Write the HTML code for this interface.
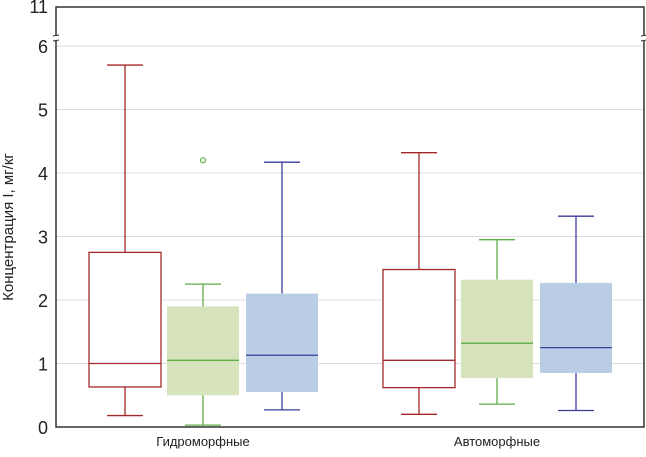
<!DOCTYPE html>
<html><head><meta charset="utf-8"><style>
body{margin:0;background:#fff;width:646px;height:452px;overflow:hidden}
svg text{font-family:"Liberation Sans","Noto Sans CJK SC",sans-serif}
</style></head><body>
<svg id="chart" width="646" height="452" xmlns="http://www.w3.org/2000/svg"></svg>
<script>
const categories=["Гидроморфные","Автоморфные"];
const seriesNames=["series-red","series-green","series-blue"];
const q1=[[0.63,0.5,0.55],[0.62,0.77,0.85]];
const q3=[[2.75,1.9,2.1],[2.48,2.32,2.27]];
const med=[[1.0,1.05,1.13],[1.05,1.32,1.25]];
const wLo=[[0.18,0.03,0.27],[0.2,0.36,0.26]];
const wHi=[[5.7,2.25,4.17],[4.32,2.95,3.32]];
const outliers=[[[],[4.2],[]],[[],[],[]]];
const yTicks=[0,1,2,3,4,5,6];
const strokes=["#a3282a","#5fae45","#3d3d9a"];
const fills=["#ffffff","#d7e3bd","#b9cde5"];
const svg=document.getElementById('chart');
const NS="http://www.w3.org/2000/svg";
const L=56,R=644,T=7,B=427;
function y(v){return B-v*63.5;}
function mk(t,a,p){const e=document.createElementNS(NS,t);for(const k in a)e.setAttribute(k,a[k]);(p||svg).appendChild(e);return e;}
// gridlines
yTicks.forEach(v=>{if(v>0){const g=mk('line',{x1:L,x2:R,y1:y(v),y2:y(v),stroke:'#dcdcdc','stroke-width':1});

}
const t=mk('text',{x:L-8,y:y(v)+7,'text-anchor':'end','font-size':18,fill:'#222'});t.textContent=v;

});
const t11=mk('text',{x:L-8,y:T+6,'text-anchor':'end','font-size':18,fill:'#222'});t11.textContent='11';


// frame
const fr=mk('path',{d:`M${L},${T}H${R}V${B}H${L}Z`,fill:'none',stroke:'#333','stroke-width':1.5});


[L,R].forEach(x=>{mk('rect',{x:x-3,y:36,width:6,height:5,fill:'#fff'});
mk('line',{x1:x-3,x2:x+3,y1:36,y2:35,stroke:'#333'});mk('line',{x1:x-3,x2:x+3,y1:41,y2:40,stroke:'#333'});});
const xAxisLbl=['',''];
const groupCenters=[203,497],offs=[-78,0,79],bw=72,cw=36;
categories.forEach((c,i)=>{
 const t=mk('text',{x:groupCenters[i],y:446,'text-anchor':'middle','font-size':13,fill:'#222'});t.textContent=c;
 
 
 for(let s=0;s<3;s++){
  const cx=groupCenters[i]+offs[s];const g=mk('g',{});
  
  
  const st=strokes[s];
  mk('line',{x1:cx,x2:cx,y1:y(wLo[i][s]),y2:y(q1[i][s]),stroke:st,'stroke-width':1.3},g);
  mk('line',{x1:cx,x2:cx,y1:y(q3[i][s]),y2:y(wHi[i][s]),stroke:st,'stroke-width':1.3},g);
  mk('line',{x1:cx-cw/2,x2:cx+cw/2,y1:y(wLo[i][s]),y2:y(wLo[i][s]),stroke:st,'stroke-width':1.3},g);
  mk('line',{x1:cx-cw/2,x2:cx+cw/2,y1:y(wHi[i][s]),y2:y(wHi[i][s]),stroke:st,'stroke-width':1.3},g);
  mk('rect',{x:cx-bw/2,y:y(q3[i][s]),width:bw,height:y(q1[i][s])-y(q3[i][s]),fill:fills[s],stroke:s==0?st:'none','stroke-width':1.3},g);
  mk('line',{x1:cx-bw/2,x2:cx+bw/2,y1:y(med[i][s]),y2:y(med[i][s]),stroke:st,'stroke-width':1.3},g);
  outliers[i][s].forEach(o=>{const c=mk('circle',{cx:cx,cy:y(o),r:2.5,fill:'none',stroke:st,'stroke-width':1.2},g);
   
   });
 }
});
const yl=mk('text',{x:0,y:0,'text-anchor':'middle','font-size':15,fill:'#222',transform:`translate(13,${(T+B)/2+10}) rotate(-90)`});
yl.textContent='Концентрация I, мг/кг';


</script>
</body></html>
